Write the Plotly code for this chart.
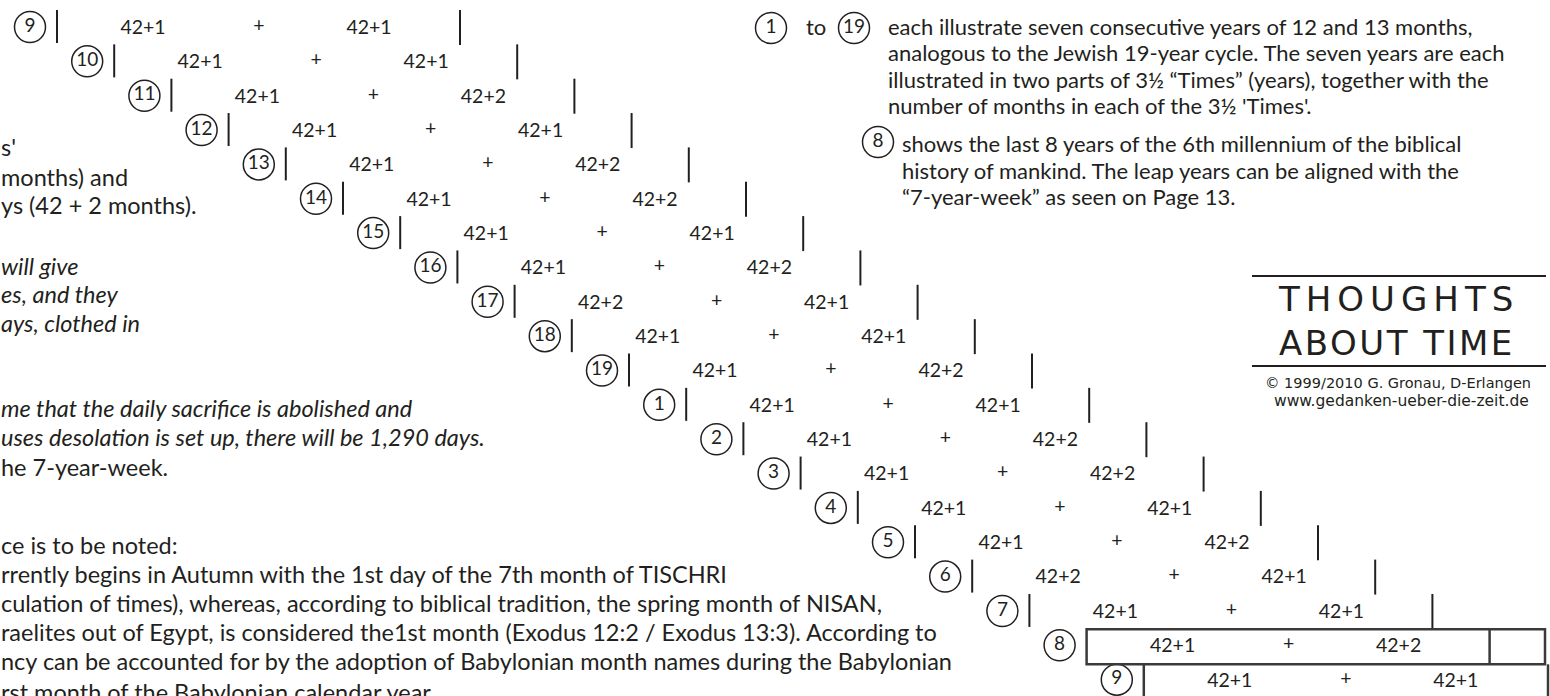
import plotly.graph_objects as go

# ---------------- data ----------------
row_labels = ["9", "10", "11", "12", "13", "14", "15", "16", "17", "18", "19",
              "1", "2", "3", "4", "5", "6", "7", "8", "9"]
first_half = ["42+1", "42+1", "42+1", "42+1", "42+1", "42+1", "42+1", "42+1", "42+2", "42+1",
              "42+1", "42+1", "42+1", "42+1", "42+1", "42+1", "42+2", "42+1", "42+1", "42+1"]
second_half = ["42+1", "42+1", "42+2", "42+1", "42+2", "42+2", "42+1", "42+2", "42+1", "42+1",
               "42+2", "42+1", "42+2", "42+2", "42+1", "42+2", "42+1", "42+1", "42+2", "42+1"]
boxed = [False] * 18 + [True, True]

right_text = [
    "each illustrate seven consecutive years of 12 and 13 months,",
    "analogous to the Jewish 19-year cycle. The seven years are each",
    "illustrated in two parts of 3½ “Times” (years), together with the",
    "number of months in each of the 3½ 'Times'.",
    "shows the last 8 years of the 6th millennium of the biblical",
    "history of mankind. The leap years can be aligned with the",
    "“7-year-week” as seen on Page 13.",
]
left_text = [
    "s'",
    "months) and",
    "ys (42 + 2 months).",
    "will give",
    "es, and they",
    "ays, clothed in",
    "me that the daily sacrifice is abolished and",
    "uses desolation is set up, there will be 1,290 days.",
    "he 7-year-week.",
    "ce is to be noted:",
    "rrently begins in Autumn with the 1st day of the 7th month of TISCHRI",
    "culation of times), whereas, according to biblical tradition, the spring month of NISAN,",
    "raelites out of Egypt, is considered the1st month (Exodus 12:2 / Exodus 13:3). According to",
    "ncy can be accounted for by the adoption of Babylonian month names during the Babylonian",
    "rst month of the Babylonian calendar year.",
]
left_italic = [False, False, False, True, True, True, True, True, False,
               False, False, False, False, False, False]
title_lines = ["THOUGHTS", "ABOUT TIME"]
credit_lines = ["© 1999/2010 G. Gronau, D-Erlangen", "www.gedanken-ueber-die-zeit.de"]

# ---------------- layout constants ----------------
W, H = 1550, 696
X0, DX = 57, 57.2
Y0, DY = 29, 34.35
INK = "#231f20"
FONT = "Lato"

n = len(row_labels)
bx = [X0 + DX * i for i in range(n)]
ry = [Y0 + DY * i for i in range(n)]

fig = go.Figure()

# vertical bars (start and end of each row, for the unboxed rows)
lx, ly = [], []
for i in range(n):
    if boxed[i]:
        continue
    lx += [bx[i], bx[i], None, bx[i] + 403, bx[i] + 403, None]
    ly += [ry[i] - 19, ry[i] + 14, None, ry[i] - 19, ry[i] + 16, None]
fig.add_trace(go.Scatter(x=lx, y=ly, mode="lines",
                         line=dict(color=INK, width=2), hoverinfo="skip"))

# boxed rows
BOX = "#3a3a3a"
shapes = []
i8, i9 = 18, 19
shapes.append(dict(type="rect", xref="x", yref="y", x0=bx[i8], x1=1545,
                   y0=ry[i8] - 18, y1=ry[i8] + 17, line=dict(color=BOX, width=2.5)))
shapes.append(dict(type="line", xref="x", yref="y", x0=bx[i8] + 403, x1=bx[i8] + 403,
                   y0=ry[i8] - 18, y1=ry[i8] + 17, line=dict(color=BOX, width=2.5)))
for xx in (bx[i9], 1548):
    shapes.append(dict(type="line", xref="x", yref="y", x0=xx, x1=xx,
                       y0=ry[i8] + 17, y1=H + 10, line=dict(color=BOX, width=2.5)))

# circled row numbers
fig.add_trace(go.Scatter(
    x=[b - 27 for b in bx], y=[y - 2 for y in ry], mode="markers+text",
    text=row_labels, textposition="middle center",
    textfont=dict(family=FONT, size=19, color=INK),
    marker=dict(symbol="circle-open", size=31, color=INK, line=dict(width=1.5)),
    hoverinfo="skip"))

# half-week month counts
NUM = 19.5
fig.add_trace(go.Scatter(x=[b + 86 for b in bx], y=ry, mode="text", text=first_half,
                         textfont=dict(family=FONT, size=NUM, color=INK), hoverinfo="skip"))
fig.add_trace(go.Scatter(x=[b + 202 for b in bx], y=[y - 2 for y in ry], mode="text",
                         text=["+"] * n,
                         textfont=dict(family=FONT, size=NUM, color=INK), hoverinfo="skip"))
fig.add_trace(go.Scatter(x=[b + 312 for b in bx], y=ry, mode="text", text=second_half,
                         textfont=dict(family=FONT, size=NUM, color=INK), hoverinfo="skip"))

# explanatory circles at top right
right_y = [26, 52, 79, 105, 143, 170, 196]
fig.add_trace(go.Scatter(
    x=[771, 854, 878], y=[28, 28, right_y[4] - 1], mode="markers+text",
    text=["1", "19", "8"],
    textposition="middle center", textfont=dict(family=FONT, size=19, color=INK),
    marker=dict(symbol="circle-open", size=31, color=INK, line=dict(width=1.5)),
    hoverinfo="skip"))

ann = []
ann.append(dict(x=816, y=26, text="to", showarrow=False, xanchor="center", yanchor="middle",
                font=dict(family=FONT, size=22, color=INK)))

right_x = [886, 886, 886, 886, 900, 900, 900]
for t, xx, yy in zip(right_text, right_x, right_y):
    ann.append(dict(x=xx, y=yy, text=t, showarrow=False, xanchor="left", yanchor="middle",
                    font=dict(family=FONT, size=22, color=INK)))

left_y = [147, 177, 205, 266, 294, 323, 408, 437, 467, 545, 574, 603, 632, 661, 692]
for t, it, yy in zip(left_text, left_italic, left_y):
    ann.append(dict(x=0, xshift=-1, y=yy, text=t, showarrow=False, xanchor="left",
                    yanchor="middle",
                    font=dict(family=FONT, size=23.5, color=INK,
                              style="italic" if it else "normal")))

# title block
shapes.append(dict(type="line", xref="x", yref="y", x0=1252, x1=1546, y0=276, y1=276,
                   line=dict(color=INK, width=2)))
shapes.append(dict(type="line", xref="x", yref="y", x0=1252, x1=1546, y0=366, y1=366,
                   line=dict(color=INK, width=2)))
ann.append(dict(x=1398, y=321, showarrow=False, xanchor="center", yanchor="bottom",
                text="<span style='letter-spacing:6px'>" + title_lines[0] + "</span>",
                font=dict(family="DejaVu Sans", size=34, color=INK)))
ann.append(dict(x=1397, y=321, showarrow=False, xanchor="center", yanchor="top",
                text="<span style='letter-spacing:2.5px'>" + title_lines[1] + "</span>",
                font=dict(family="DejaVu Sans", size=34, color=INK)))
ann.append(dict(x=1398, y=383, text=credit_lines[0], showarrow=False, xanchor="center",
                yanchor="middle", font=dict(family="DejaVu Sans", size=14.5, color=INK)))
ann.append(dict(x=1401, y=401, text=credit_lines[1], showarrow=False, xanchor="center",
                yanchor="middle", font=dict(family="DejaVu Sans", size=15.5, color=INK)))

fig.update_layout(
    width=W, height=H, margin=dict(l=0, r=0, t=0, b=0),
    paper_bgcolor="white", plot_bgcolor="white", showlegend=False,
    xaxis=dict(range=[0, W], visible=False, fixedrange=True),
    yaxis=dict(range=[H, 0], visible=False, fixedrange=True),
    shapes=shapes, annotations=ann,
)
fig.write_html("out.html", config={"displayModeBar": False},
               post_script="document.body.style.margin='0px';")
